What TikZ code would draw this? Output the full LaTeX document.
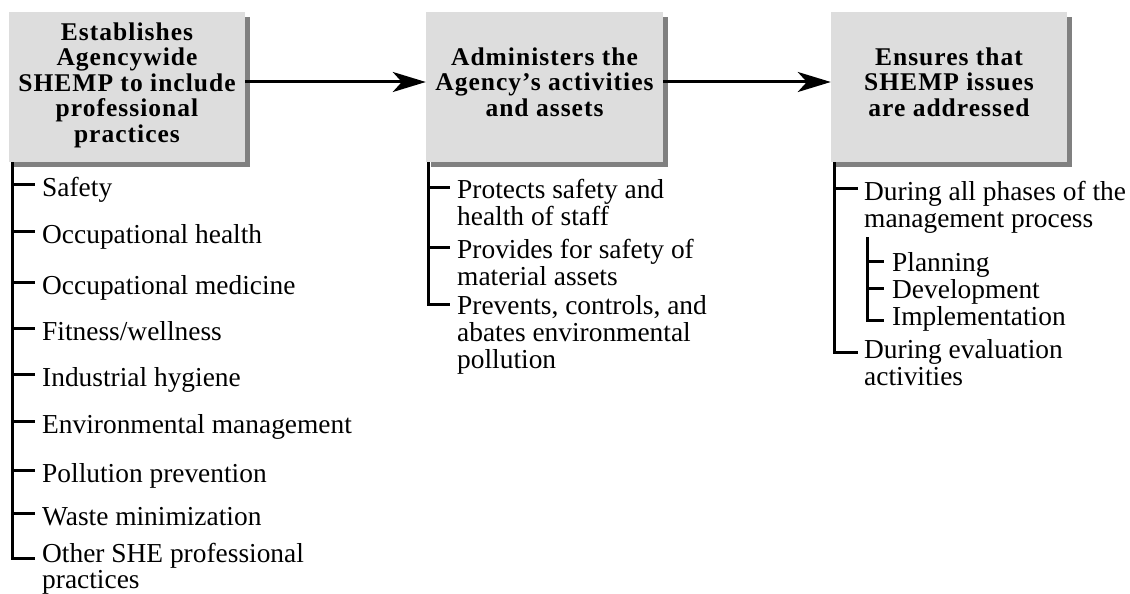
\documentclass[tikz,border=0pt]{standalone}
\usepackage{fontspec}
\setmainfont{Liberation Serif}
\newfontfamily\boxfont{Liberation Serif}[LetterSpace=4]
\usetikzlibrary{arrows.meta,shadows,calc}
\definecolor{boxgray}{RGB}{221,221,221}
\definecolor{shadowgray}{RGB}{128,128,128}
\begin{document}
\begin{tikzpicture}[x=1pt,y=-1pt,
  box/.style={fill=boxgray, draw=none, minimum width=236pt, minimum height=150pt, inner sep=0pt,
    general shadow={fill=shadowgray, shadow xshift=5pt, shadow yshift=-5pt}},
  boxtext/.style={align=center, inner sep=0pt, font={\boxfont\bfseries\fontsize{25.5}{25.5}\selectfont}},
  item/.style={anchor=base west, inner sep=0pt, font={\fontsize{27.4}{27}\selectfont}},
  tree/.style={line width=3pt, line join=miter},
  arr/.style={line width=3pt, -{Stealth[length=33pt,width=20pt,inset=9pt]}}
]
\useasboundingbox (0,0) rectangle (1130,594);

% boxes
\node[box] (b1) at (127,87) {};
\node[box, minimum width=237pt] (b2) at (544.5,87) {};
\node[box] (b3) at (949,87) {};

\node[boxtext] (t1) at (127,85) {Establishes\\Agencywide\\SHEMP to include\\professional\\practices};
\node[boxtext] (t2) at (544.5,82) {Administers the\\Agency’s activities\\and assets};
\node[boxtext] (t3) at (949,82) {Ensures that\\SHEMP issues\\are addressed};

% arrows
\coordinate (ay) at (0,82);
\draw[arr] (ay -| b1.east) -- (ay -| b2.west);
\draw[arr] (ay -| b2.east) -- (ay -| b3.west);

% left column
\node[item] (L1) at (42,196) {Safety};
\node[item] (L2) at (42,243) {Occupational health};
\node[item] (L3) at (42,294) {Occupational medicine};
\node[item] (L4) at (42,340) {Fitness/wellness};
\node[item] (L5) at (42,386) {Industrial hygiene};
\node[item] (L6) at (42,433) {Environmental management};
\node[item] (L7) at (42,482) {Pollution prevention};
\node[item] (L8) at (42,525) {Waste minimization};
\node[item, font={\fontsize{27.4}{26}\selectfont}] (L9) at (42,562) {\parbox[t]{400pt}{Other SHE professional\\practices}};

\coordinate (v1) at ([xshift=4pt]b1.south west);
\foreach \n in {L1,L2,L3,L4,L5,L6,L7,L8}{
  \coordinate (k) at ($(\n.base west)+(-7,-12)$);
  \draw[tree] (k -| v1) -- (k);
}
\coordinate (k9) at ($(L9.base west)+(-7,-4)$);
\draw[tree] (v1) |- (k9);

% middle column
\node[item] (M1) at (457,198) {\parbox[t]{400pt}{Protects safety and\\health of staff}};
\node[item] (M2) at (457,258) {\parbox[t]{400pt}{Provides for safety of\\material assets}};
\node[item] (M3) at (457,314) {\parbox[t]{400pt}{Prevents, controls, and\\abates environmental\\pollution}};
\coordinate (v2) at ([xshift=3pt]b2.south west);
\foreach \n in {M1,M2}{
  \coordinate (k) at ($(\n.base west)+(-7,-11)$);
  \draw[tree] (k -| v2) -- (k);
}
\coordinate (k3) at ($(M3.base west)+(-7,-10)$);
\draw[tree] (v2) |- (k3);

% right column
\node[item] (R1) at (864,200) {\parbox[t]{400pt}{During all phases of the\\management process}};
\node[item] (S1) at (892,271) {Planning};
\node[item] (S2) at (892,298) {Development};
\node[item] (S3) at (892,325) {Implementation};
\node[item] (R2) at (864,358) {\parbox[t]{400pt}{During evaluation\\activities}};
\coordinate (v3) at ([xshift=4pt]b3.south west);
\coordinate (kr1) at ($(R1.base west)+(-6,-12)$);
\draw[tree] (kr1 -| v3) -- (kr1);
\coordinate (kr2) at ($(R2.base west)+(-6,-6)$);
\draw[tree] (v3) |- (kr2);

\coordinate (v4) at ($(R1.base west)+(3,37)$);
\foreach \n in {S1,S2}{
  \coordinate (k) at ($(\n.base west)+(-8,-10)$);
  \draw[tree] (k -| v4) -- (k);
}
\coordinate (ks3) at ($(S3.base west)+(-8,-5)$);
\draw[tree] (v4) |- (ks3);
\end{tikzpicture}
\end{document}
